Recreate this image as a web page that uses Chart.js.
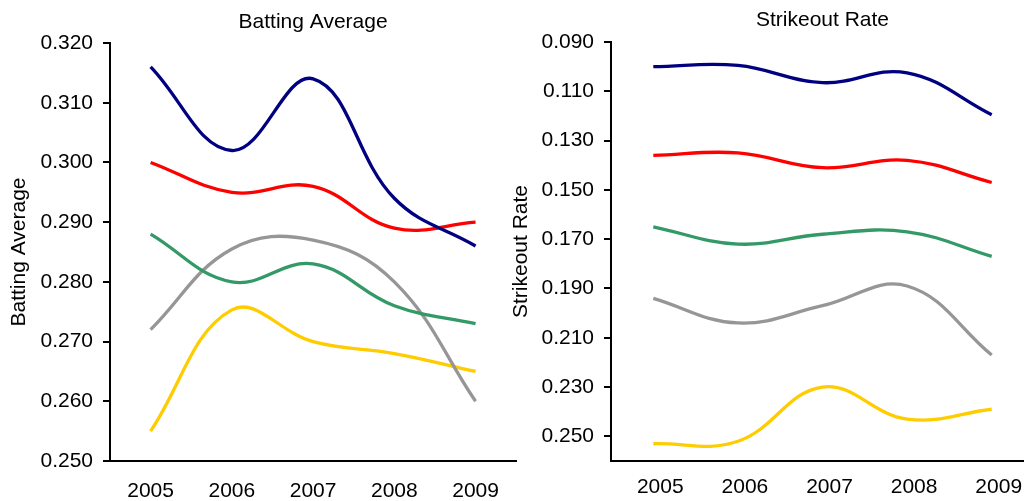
<!DOCTYPE html>
<html><head><meta charset="utf-8">
<script src="https://cdn.jsdelivr.net/npm/chart.js@4"></script>
<style>
html,body{margin:0;padding:0;background:#fff;overflow:hidden;width:1024px;height:501px;}
canvas{position:absolute;top:0;}
#c1{left:0px}
#c2{left:500px}
</style></head><body>
<canvas id="c1" width="517" height="501"></canvas>
<canvas id="c2" width="534" height="501"></canvas>
<script>
// ---- data ----
const years = ['2005', '2006', '2007', '2008', '2009'];
const seriesColors = ['#000080', '#FF0000', '#339966', '#969696', '#FFCC00'];

const avgNavy   = [0.316, 0.302, 0.314, 0.294, 0.286];
const avgRed    = [0.300, 0.295, 0.296, 0.289, 0.290];
const avgGreen  = [0.288, 0.280, 0.283, 0.276, 0.273];
const avgGray   = [0.272, 0.2855, 0.287, 0.280, 0.260];
const avgYellow = [0.255, 0.2753, 0.270, 0.268, 0.265];
const avgTicks  = [0.250, 0.260, 0.270, 0.280, 0.290, 0.300, 0.310, 0.320];

const kNavy   = [0.100, 0.0995, 0.1065, 0.1025, 0.1195];
const kRed    = [0.136, 0.135, 0.141, 0.138, 0.147];
const kGreen  = [0.165, 0.172, 0.168, 0.167, 0.177];
const kGray   = [0.194, 0.204, 0.197, 0.189, 0.217];
const kYellow = [0.253, 0.252, 0.230, 0.243, 0.239];
const kTicks  = [0.090, 0.110, 0.130, 0.150, 0.170, 0.190, 0.210, 0.230, 0.250];

// ---- chart setup ----
Chart.defaults.font.family = "'Liberation Sans', Arial, sans-serif";
Chart.defaults.font.size = 21;
Chart.defaults.color = '#000';

function makeDatasets(list) {
  return list.map((d, i) => ({
    data: d,
    borderColor: seriesColors[i],
    backgroundColor: seriesColors[i],
    borderWidth: 3.3,
    pointRadius: 0,
    tension: 0.4,
    fill: false
  }));
}

function makeChart(id, opts) {
  return new Chart(document.getElementById(id), {
    type: 'line',
    data: { labels: years, datasets: makeDatasets(opts.series) },
    options: {
      responsive: false,
      animation: false,
      events: [],
      layout: { padding: { left: opts.padLeft, right: 0, top: 0, bottom: 0 } },
      plugins: {
        legend: { display: false },
        tooltip: { enabled: false },
        title: {
          display: true,
          text: opts.title,
          fullSize: false,
          font: { size: 21, weight: 'normal' },
          color: '#000',
          padding: opts.titlePad
        }
      },
      scales: {
        x: {
          type: 'category',
          offset: true,
          grid: { display: true, drawOnChartArea: false, drawTicks: false, color: '#000', lineWidth: 2 },
          border: { display: true, color: '#000', width: 2 },
          ticks: { padding: opts.xPad, labelOffset: opts.xLabelOffset, maxRotation: 0, autoSkip: false, color: '#000' },
          afterFit: s => { s.height = 40; }
        },
        y: {
          type: 'linear',
          min: opts.min,
          max: opts.max,
          reverse: opts.reverse,
          grid: { display: true, drawOnChartArea: false, drawTicks: true, tickLength: 7, color: '#000', lineWidth: 2 },
          border: { display: true, color: '#000', width: 2 },
          ticks: { padding: 10, color: '#000', callback: v => Number(v).toFixed(3) },
          afterBuildTicks: s => { s.ticks = opts.ticks.map(v => ({ value: v })); },
          afterFit: s => { s.width = opts.yWidth; },
          title: { display: true, text: opts.axisTitle, color: '#000', font: { size: 21 }, padding: { top: 4, bottom: 4 } }
        }
      }
    }
  });
}

makeChart('c1', {
  series: [avgNavy, avgRed, avgGreen, avgGray, avgYellow],
  title: 'Batting Average', axisTitle: 'Batting Average',
  min: 0.25, max: 0.32, reverse: false, ticks: avgTicks,
  padLeft: 3, yWidth: 107, titlePad: { top: 10, bottom: 7.8 },
  xPad: 18, xLabelOffset: 0
});

makeChart('c2', {
  series: [kNavy, kRed, kGreen, kGray, kYellow],
  title: 'Strikeout Rate', axisTitle: 'Strikeout Rate',
  min: 0.09, max: 0.26, reverse: true, ticks: kTicks,
  padLeft: 5, yWidth: 106, titlePad: { top: 8, bottom: 8.8 },
  xPad: 14, xLabelOffset: 7
});
</script>
</body></html>
